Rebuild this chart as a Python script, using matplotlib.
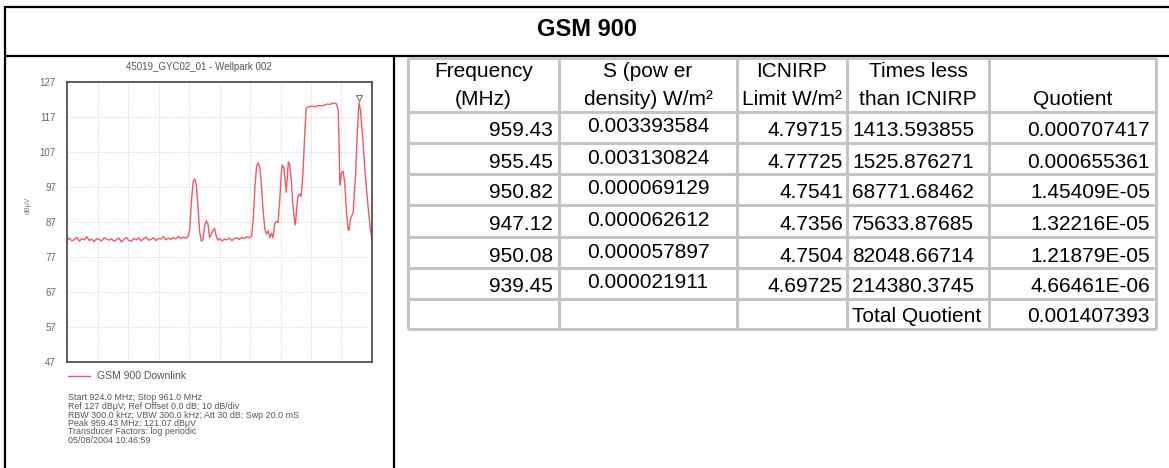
import numpy as np
import matplotlib
matplotlib.use("Agg")
import matplotlib.pyplot as plt

W, H = 1169, 468
FONT = "Liberation Sans"

# spectrum trace (MHz, dBuV)
freq = [924.0, 924.3, 924.6, 924.9, 925.2, 925.5, 925.8, 926.1, 926.4, 926.7,
        927.0, 927.3, 927.6, 927.9, 928.2, 928.5, 928.8, 929.1, 929.4, 929.7,
        930.0, 930.3, 930.6, 930.9, 931.2, 931.5, 931.8, 932.1, 932.4, 932.7,
        933.0, 933.3, 933.6, 933.9, 934.2, 934.5, 934.8, 935.1, 935.4, 935.7,
        936.0, 936.3, 936.6, 936.9, 937.2, 937.5, 937.8, 938.1, 938.4, 938.7,
        938.9, 939.1, 939.3, 939.5, 939.7, 939.9, 940.1, 940.3, 940.5, 940.7,
        940.9, 941.1, 941.3, 941.5, 941.7, 941.9, 942.1, 942.3, 942.5, 942.8,
        943.1, 943.4, 943.7, 944.0, 944.3, 944.6, 944.9, 945.2, 945.5, 945.8,
        946.1, 946.4, 946.6, 946.8, 947.0, 947.2, 947.4, 947.6, 947.8, 948.0,
        948.2, 948.4, 948.6, 948.8, 949.0, 949.2, 949.4, 949.6, 949.8, 950.0,
        950.1, 950.3, 950.5, 950.6, 950.7, 950.85, 951.0, 951.2, 951.4, 951.6,
        951.7, 951.8, 952.0, 952.2, 952.4, 952.6, 952.8, 953.0, 953.2, 953.5,
        953.8, 954.1, 954.4, 954.7, 955.0, 955.3, 955.6, 955.9, 956.2, 956.5,
        956.7, 956.9, 957.0, 957.1, 957.3, 957.5, 957.7, 957.9, 958.1, 958.2,
        958.4, 958.7, 959.0, 959.2, 959.43, 959.6, 959.9, 960.2, 960.5, 960.8,
        961.0]
level = [81.8, 82.4, 81.6, 82.0, 82.6, 81.5, 82.2, 81.9, 82.8, 81.7,
         82.1, 81.4, 82.3, 82.0, 81.6, 82.5, 82.1, 81.8, 82.2, 81.5,
         81.9, 82.4, 81.3, 82.0, 82.6, 81.7, 81.5, 82.3, 81.9, 82.5,
         81.6, 82.2, 82.7, 81.8, 82.0, 82.5, 81.7, 82.3, 82.1, 82.8,
         81.9, 82.4, 82.0, 82.6, 82.2, 82.9, 82.3, 82.7, 82.4, 82.9,
         85.0, 93.0, 98.5, 99.3, 97.5, 91.0, 84.0, 81.5, 82.0, 86.0,
         87.3, 86.5, 82.5, 83.5, 84.5, 85.2, 83.0, 81.8, 82.3, 81.6,
         82.1, 81.9, 82.4, 81.7, 82.2, 82.5, 82.0, 82.6, 82.3, 82.8,
         82.5, 83.0, 88.0, 97.0, 103.0, 103.9, 102.5, 97.0, 90.0, 85.0,
         83.5, 84.5, 82.5, 83.8, 82.6, 86.5, 87.2, 86.8, 93.0, 101.0,
         103.3, 102.5, 98.0, 95.5, 99.0, 104.2, 103.5, 99.0, 92.0, 87.5,
         86.2, 89.0, 94.2, 95.0, 94.3, 100.0, 110.0, 119.3, 119.8, 120.0,
         120.1, 119.9, 120.2, 120.3, 120.2, 120.5, 120.7, 120.6, 120.9, 121.0,
         120.7, 119.0, 110.0, 97.5, 101.0, 101.5, 98.0, 90.0, 85.0, 84.6,
         88.0, 89.5, 100.0, 112.0, 121.07, 119.0, 110.0, 100.0, 92.0, 85.0,
         82.0]
peak_freq, peak_level = 959.43, 121.07

y_ticks = [127, 117, 107, 97, 87, 77, 67, 57, 47]

info_lines = ["Start 924.0 MHz; Stop 961.0 MHz",
              "Ref 127 dB\u03bcV; Ref Offset 0.0 dB; 10 dB/div",
              "RBW 300.0 kHz; VBW 300.0 kHz; Att 30 dB; Swp 20.0 mS",
              "Peak 959.43 MHz; 121.07 dB\u03bcV",
              "Transducer Factors: log periodic",
              "05/08/2004 10:46:59"]

# table
headers = [("Frequency", "(MHz)"),
           ("S (pow er", "density) W/m\u00b2"),
           ("ICNIRP", "Limit W/m\u00b2"),
           ("Times less", "than ICNIRP"),
           ("", "Quotient")]
col_freq = ["959.43", "955.45", "950.82", "947.12", "950.08", "939.45", ""]
col_s = ["0.003393584", "0.003130824", "0.000069129", "0.000062612",
         "0.000057897", "0.000021911", ""]
col_limit = ["4.79715", "4.77725", "4.7541", "4.7356", "4.7504", "4.69725", ""]
col_times = ["1413.593855", "1525.876271", "68771.68462", "75633.87685",
             "82048.66714", "214380.3745", "Total Quotient"]
col_quot = ["0.000707417", "0.000655361", "1.45409E-05", "1.32216E-05",
            "1.21879E-05", "4.66461E-06", "0.001407393"]

fig = plt.figure(figsize=(W / 100, H / 100), dpi=100)
bg = fig.add_axes([0, 0, 1, 1])
bg.set_xlim(0, W)
bg.set_ylim(H, 0)
bg.axis("off")

# outer frame
for xs, ys in [((4, W), (6.5, 6.5)), ((4, W), (55.5, 55.5)),
               ((4.5, 4.5), (5.5, H)), ((394, 394), (55.5, H))]:
    bg.plot(xs, ys, color="black", lw=1.6, solid_capstyle="butt")
bg.text(587, 29, "GSM 900", ha="center", va="center", fontsize=17,
        fontweight="bold", family=FONT)

# table grid
col_x = [408, 559, 737, 847, 989, 1156]
row_y = [58, 112, 143, 174, 205, 237, 268, 299, 329]
gcol = "#c4c4c4"
for x in col_x:
    bg.plot([x, x], [row_y[0], row_y[-1]], color=gcol, lw=2.2, solid_capstyle="butt")
for y in row_y:
    bg.plot([col_x[0], col_x[-1]], [y, y], color=gcol, lw=2.2, solid_capstyle="butt")

for i, (l1, l2) in enumerate(headers):
    cx = (col_x[i] + col_x[i + 1]) / 2
    bg.text(cx, 77, l1, ha="center", va="baseline", fontsize=15, family=FONT)
    bg.text(cx, 105, l2, ha="center", va="baseline", fontsize=15, family=FONT)

for r in range(len(col_quot)):
    base = row_y[r + 2] - 6.5
    bg.text(col_x[1] - 6, base, col_freq[r], ha="right", va="baseline", fontsize=15, family=FONT)
    bg.text((col_x[1] + col_x[2]) / 2, base - 4, col_s[r], ha="center", va="baseline", fontsize=15, family=FONT)
    bg.text(col_x[3] - 4, base, col_limit[r], ha="right", va="baseline", fontsize=15, family=FONT)
    bg.text(col_x[3] + 5, base, col_times[r], ha="left", va="baseline", fontsize=15, family=FONT)
    bg.text(col_x[5] - 6, base, col_quot[r], ha="right", va="baseline", fontsize=15, family=FONT)

# spectrum plot
px0, px1, py0, py1 = 67, 372, 82, 362
ax = fig.add_axes([px0 / W, 1 - py1 / H, (px1 - px0) / W, (py1 - py0) / H])
ax.plot(freq, level, color="#ec5a66", lw=1.0)
ax.plot(peak_freq, peak_level + 1.4, marker="v", ms=4.5, mfc="none", mec="#777777", mew=0.8)
ax.set_xlim(924, 961)
ax.set_ylim(47, 127)
ax.set_xticks(np.linspace(924, 961, 11))
ax.set_yticks(y_ticks)
ax.set_xticklabels([])
ax.set_yticklabels([str(v) for v in y_ticks], color="#666666", fontsize=7, family=FONT)
ax.tick_params(length=0, pad=8)
ax.grid(True, color="#d4d4d4", ls=(0, (1, 1.5)), lw=0.7)
for s in ax.spines.values():
    s.set_color("#444444")
    s.set_linewidth(1.2)

grey = "#555555"
bg.text(28, 205, "dB\u03bcV", ha="center", va="center", rotation=90,
        fontsize=5, color="#777777", family=FONT)
bg.text(199, 67, "45019_GYC02_01 - Wellpark 002", ha="center", va="center",
        fontsize=7, color=grey, family=FONT)
bg.plot([68, 90], [376, 376], color="#ec5a66", lw=1.0)
bg.text(97, 376, "GSM 900 Downlink", ha="left", va="center", fontsize=7.5,
        color=grey, family=FONT)
for i, line in enumerate(info_lines):
    bg.text(68, 398 + i * 8.5, line, ha="left", va="center", fontsize=6.4,
            color=grey, family=FONT)

fig.savefig("out.png", dpi=100)
